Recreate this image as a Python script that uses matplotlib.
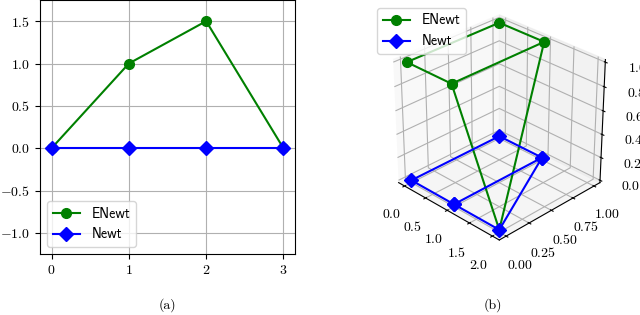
import matplotlib
matplotlib.use("Agg")
import matplotlib.pyplot as plt

plt.rcParams['font.family'] = ['cmr10', 'DejaVu Serif']
plt.rcParams['mathtext.fontset'] = 'cm'
plt.rcParams['axes.formatter.use_mathtext'] = True
plt.rcParams['font.size'] = 10
plt.rcParams['axes3d.automargin'] = True

# 2D data
steps = [0, 1, 2, 3]
enewt_2d = [0, 1, 1.5, 0]
newt_2d = [0, 0, 0, 0]

# 3D data (path through the grid)
x3 = [1, 0, 0, 1, 1, 2, 1]
y3 = [0, 0, 1, 1, 0, 0, 1]
z_enewt = [1, 1, 1, 1, 1, 0, 1]
z_newt = [0, 0, 0, 0, 0, 0, 0]

fig = plt.figure(figsize=(6.4, 3.15), dpi=100)

ax1 = fig.add_axes([40/640, 61/315, 255/640, 254/315])
ax1.plot(steps, enewt_2d, color='green', marker='o', lw=1.5, ms=7, label='ENewt')
ax1.plot(steps, newt_2d, color='blue', marker='D', lw=1.5, ms=7, label='Newt')
ax1.set_ylim(-1.25, 1.75)
ax1.set_xticks([0, 1, 2, 3])
ax1.set_yticks([-1.0, -0.5, 0.0, 0.5, 1.0, 1.5])
ax1.grid(True)
ax1.legend(loc='lower left', prop={'family': 'cmss10', 'size': 10})

# axes box in pixels (left, top, width, height)
L, T, W, H = 374.5, 4.5, 243, 243
ax2 = fig.add_axes([L/640, 1 - (T + H)/315, W/640, H/315], projection='3d')
ax2.plot(x3, y3, z_enewt, color='green', marker='o', lw=1.5, ms=7, label='ENewt')
ax2.plot(x3, y3, z_newt, color='blue', marker='D', lw=1.5, ms=7, label='Newt')
ax2.set_xticks([0.0, 0.5, 1.0, 1.5, 2.0])
ax2.set_yticks([0.0, 0.25, 0.5, 0.75, 1.0])
ax2.set_zticks([0.0, 0.2, 0.4, 0.6, 0.8, 1.0])
ax2.tick_params(axis='z', pad=6)
ax2.view_init(elev=29.5, azim=-45)
ax2.set_box_aspect((1, 1, 0.967))
ax2.legend(loc='upper left', prop={'family': 'cmss10', 'size': 10},
           bbox_to_anchor=(370/640, 1 - 1/315), bbox_transform=fig.transFigure)

fig.text(167/640, 10/315, '(a)', ha='center', va='center')
fig.text(493/640, 10/315, '(b)', ha='center', va='center')

fig.savefig('out.png', dpi=100)
